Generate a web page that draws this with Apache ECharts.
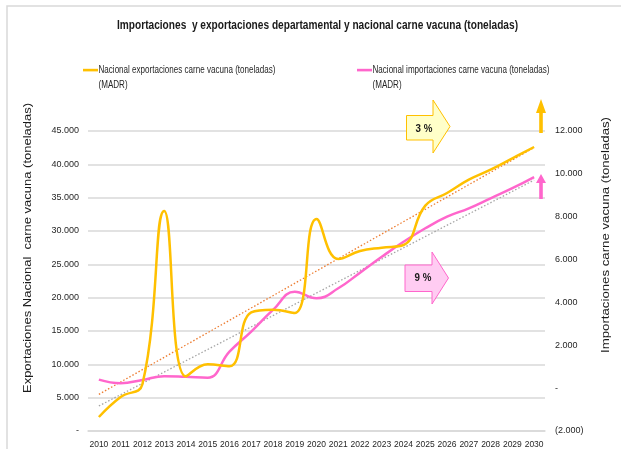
<!DOCTYPE html>
<html>
<head>
<meta charset="utf-8">
<script src="https://cdn.jsdelivr.net/npm/echarts@6/dist/echarts.min.js"></script>
<style>
  html, body { margin: 0; padding: 0; background: #ffffff; }
  #chart { width: 621px; height: 449px; }
</style>
</head>
<body>
<div id="chart"></div>
<script>
// Years on the category axis
const years = ['2010','2011','2012','2013','2014','2015','2016','2017','2018','2019','2020',
               '2021','2022','2023','2024','2025','2026','2027','2028','2029','2030'];

// National beef exports (tonnes) – left axis
const exportsTon = [2100, 5100, 7000, 33000, 8200, 10000, 9700, 17800, 18200, 17700, 31800,
                    25800, 27000, 27500, 27900, 33800, 35700, 37700, 39200, 40900, 42600];

// National beef imports (tonnes) – right axis
const importsTon = [400, 230, 380, 560, 530, 490, 1700, 2640, 3650, 4500, 4190,
                    4660, 5390, 6130, 6830, 7460, 8000, 8390, 8860, 9330, 9850];

// Linear trend endpoints (first and last year)
const exportsTrend = [5500, 42500];
const importsTrend = [-830, 9710];

// Axis tick settings
const leftTicks = { min: 0, max: 45000, step: 5000 };
const rightTicks = { min: -2000, max: 12000, step: 2000 };

const exportsName = 'Nacional exportaciones carne vacuna (toneladas)';
const importsName = 'Nacional importaciones carne vacuna (toneladas)';
const sourceNote = '(MADR)';
const growthLabels = ['3 %', '9 %'];

const FONT = "'Liberation Sans', Arial, sans-serif";
const YELLOW = '#FFC000';
const PINK = '#FF66CC';

function fmtThousands(v) {
  if (v === 0) return '-';
  const s = Math.abs(v).toString().replace(/\B(?=(\d{3})+(?!\d))/g, '.');
  return v < 0 ? '(' + s + ')' : s;
}

// Horizontal squeeze factor so a string occupies the given width (condensed look)
const measureCtx = document.createElement('canvas').getContext('2d');
function fitScale(text, size, weight, width) {
  measureCtx.font = (weight || 'normal') + ' ' + size + 'px ' + FONT;
  return width / measureCtx.measureText(text).width;
}

function label(text, x, y, size, weight, scale, extra) {
  return Object.assign({
    type: 'text', x: x, y: y, scaleX: scale, scaleY: 1, silent: true,
    style: Object.assign({ text: text, fontFamily: FONT, fontSize: size, fontWeight: weight || 'normal',
                           fill: '#262626', align: 'left', verticalAlign: 'middle' }, (extra && extra.style) || {})
  }, extra ? { rotation: extra.rotation || 0, z: extra.z || 1 } : {});
}

// Block arrows and small up arrows used as annotations
function blockArrow(x0, bodyTop, bodyBot, headX, headTop, headBot, tipX, fill, stroke) {
  const midY = (headTop + headBot) / 2;
  return {
    type: 'polygon', silent: true,
    shape: { points: [[x0, bodyTop], [headX, bodyTop], [headX, headTop], [tipX, midY],
                      [headX, headBot], [headX, bodyBot], [x0, bodyBot]] },
    style: { fill: fill, stroke: stroke, lineWidth: 1 },
    z: 10
  };
}
function upArrow(cx, tipY, headBaseY, bottomY, color) {
  return {
    type: 'polygon', silent: true,
    shape: { points: [[cx, tipY], [cx + 5, headBaseY], [cx + 1.8, headBaseY], [cx + 1.8, bottomY],
                      [cx - 1.8, bottomY], [cx - 1.8, headBaseY], [cx - 5, headBaseY]] },
    style: { fill: color },
    z: 10
  };
}

const titleText = 'Importaciones  y exportaciones departamental y nacional carne vacuna (toneladas)';
const leftName = 'Exportaciones Nacional  carne vacuna (toneladas)';
const rightName = 'Importaciones carne vacuna (toneladas)';

const legendScale = fitScale(exportsName, 10, 'normal', 177);

const chart = echarts.init(document.getElementById('chart'), null, { renderer: 'canvas' });

const option = {
  backgroundColor: '#ffffff',
  animation: false,
  grid: { left: 88, right: 76, top: 131, bottom: 18, containLabel: false },
  xAxis: {
    type: 'category',
    data: years,
    boundaryGap: true,
    axisLine: { show: true, lineStyle: { color: '#d9d9d9', width: 1.5 } },
    axisTick: { show: false },
    axisLabel: { fontFamily: FONT, fontSize: 8.5, color: '#262626', margin: 9, interval: 0 }
  },
  yAxis: [
    {
      type: 'value',
      min: leftTicks.min, max: leftTicks.max, interval: leftTicks.step,
      axisLine: { show: false }, axisTick: { show: false },
      splitLine: { show: true, lineStyle: { color: '#d9d9d9', width: 1.5 } },
      axisLabel: { fontFamily: FONT, fontSize: 9, color: '#262626', margin: 9, formatter: fmtThousands }
    },
    {
      type: 'value',
      min: rightTicks.min, max: rightTicks.max, interval: rightTicks.step,
      axisLine: { show: false }, axisTick: { show: false },
      splitLine: { show: false },
      axisLabel: { fontFamily: FONT, fontSize: 9, color: '#262626', margin: 10, formatter: fmtThousands }
    }
  ],
  series: [
    {
      name: exportsName, type: 'line', yAxisIndex: 0, data: exportsTon,
      smooth: 0.45, showSymbol: false, z: 5,
      lineStyle: { color: YELLOW, width: 2.5 }, itemStyle: { color: YELLOW }
    },
    {
      name: importsName, type: 'line', yAxisIndex: 1, data: importsTon,
      smooth: 0.45, showSymbol: false, z: 4,
      lineStyle: { color: PINK, width: 2.5 }, itemStyle: { color: PINK }
    },
    {
      name: 'Tendencia exportaciones', type: 'line', yAxisIndex: 0,
      data: [[years[0], exportsTrend[0]], [years[years.length - 1], exportsTrend[1]]],
      showSymbol: false, z: 3,
      lineStyle: { color: '#ED7D31', width: 1.3, type: [1.5, 2] }
    },
    {
      name: 'Tendencia importaciones', type: 'line', yAxisIndex: 1,
      data: [[years[0], importsTrend[0]], [years[years.length - 1], importsTrend[1]]],
      showSymbol: false, z: 3,
      lineStyle: { color: '#A5A5A5', width: 1.3, type: [1.5, 2] }
    }
  ],
  graphic: [
    { type: 'rect', shape: { x: 7, y: 6, width: 700, height: 500 },
      style: { fill: 'none', stroke: '#d9d9d9', lineWidth: 1.5 }, silent: true, z: -1 },

    // title
    label(titleText, 317.5, 26, 12.5, 'bold', fitScale(titleText, 12.5, 'bold', 401),
          { style: { align: 'center', fill: '#1a1a1a' } }),

    // legend
    { type: 'rect', shape: { x: 83, y: 68.8, width: 15, height: 2.6 }, style: { fill: YELLOW }, silent: true },
    label(exportsName, 98.5, 70, 10, 'normal', legendScale),
    label(sourceNote, 98.5, 85, 10, 'normal', legendScale),
    { type: 'rect', shape: { x: 357, y: 68.8, width: 15, height: 2.6 }, style: { fill: PINK }, silent: true },
    label(importsName, 372.5, 70, 10, 'normal', legendScale),
    label(sourceNote, 372.5, 85, 10, 'normal', legendScale),

    // axis names
    label(leftName, 28, 248, 10.5, 'normal', fitScale(leftName, 10.5, 'normal', 290),
          { rotation: Math.PI / 2, style: { align: 'center', fill: '#1a1a1a' } }),
    label(rightName, 606, 235, 10.5, 'normal', fitScale(rightName, 10.5, 'normal', 236),
          { rotation: Math.PI / 2, style: { align: 'center', fill: '#1a1a1a' } }),

    // growth annotations
    blockArrow(406.5, 115.5, 140, 433, 100, 153, 450, '#FFFFC9', YELLOW),
    label(growthLabels[0], 424, 129, 11.5, 'bold', 0.85, { z: 11, style: { align: 'center', fill: '#1a1a1a' } }),
    blockArrow(405, 265, 291.5, 432, 252, 304, 448.5, '#FFCCF2', PINK),
    label(growthLabels[1], 423, 278, 11.5, 'bold', 0.85, { z: 11, style: { align: 'center', fill: '#1a1a1a' } }),
    upArrow(541, 99, 113, 133, YELLOW),
    upArrow(541, 174, 183, 199, PINK)
  ]
};

chart.setOption(option);
</script>
</body>
</html>
